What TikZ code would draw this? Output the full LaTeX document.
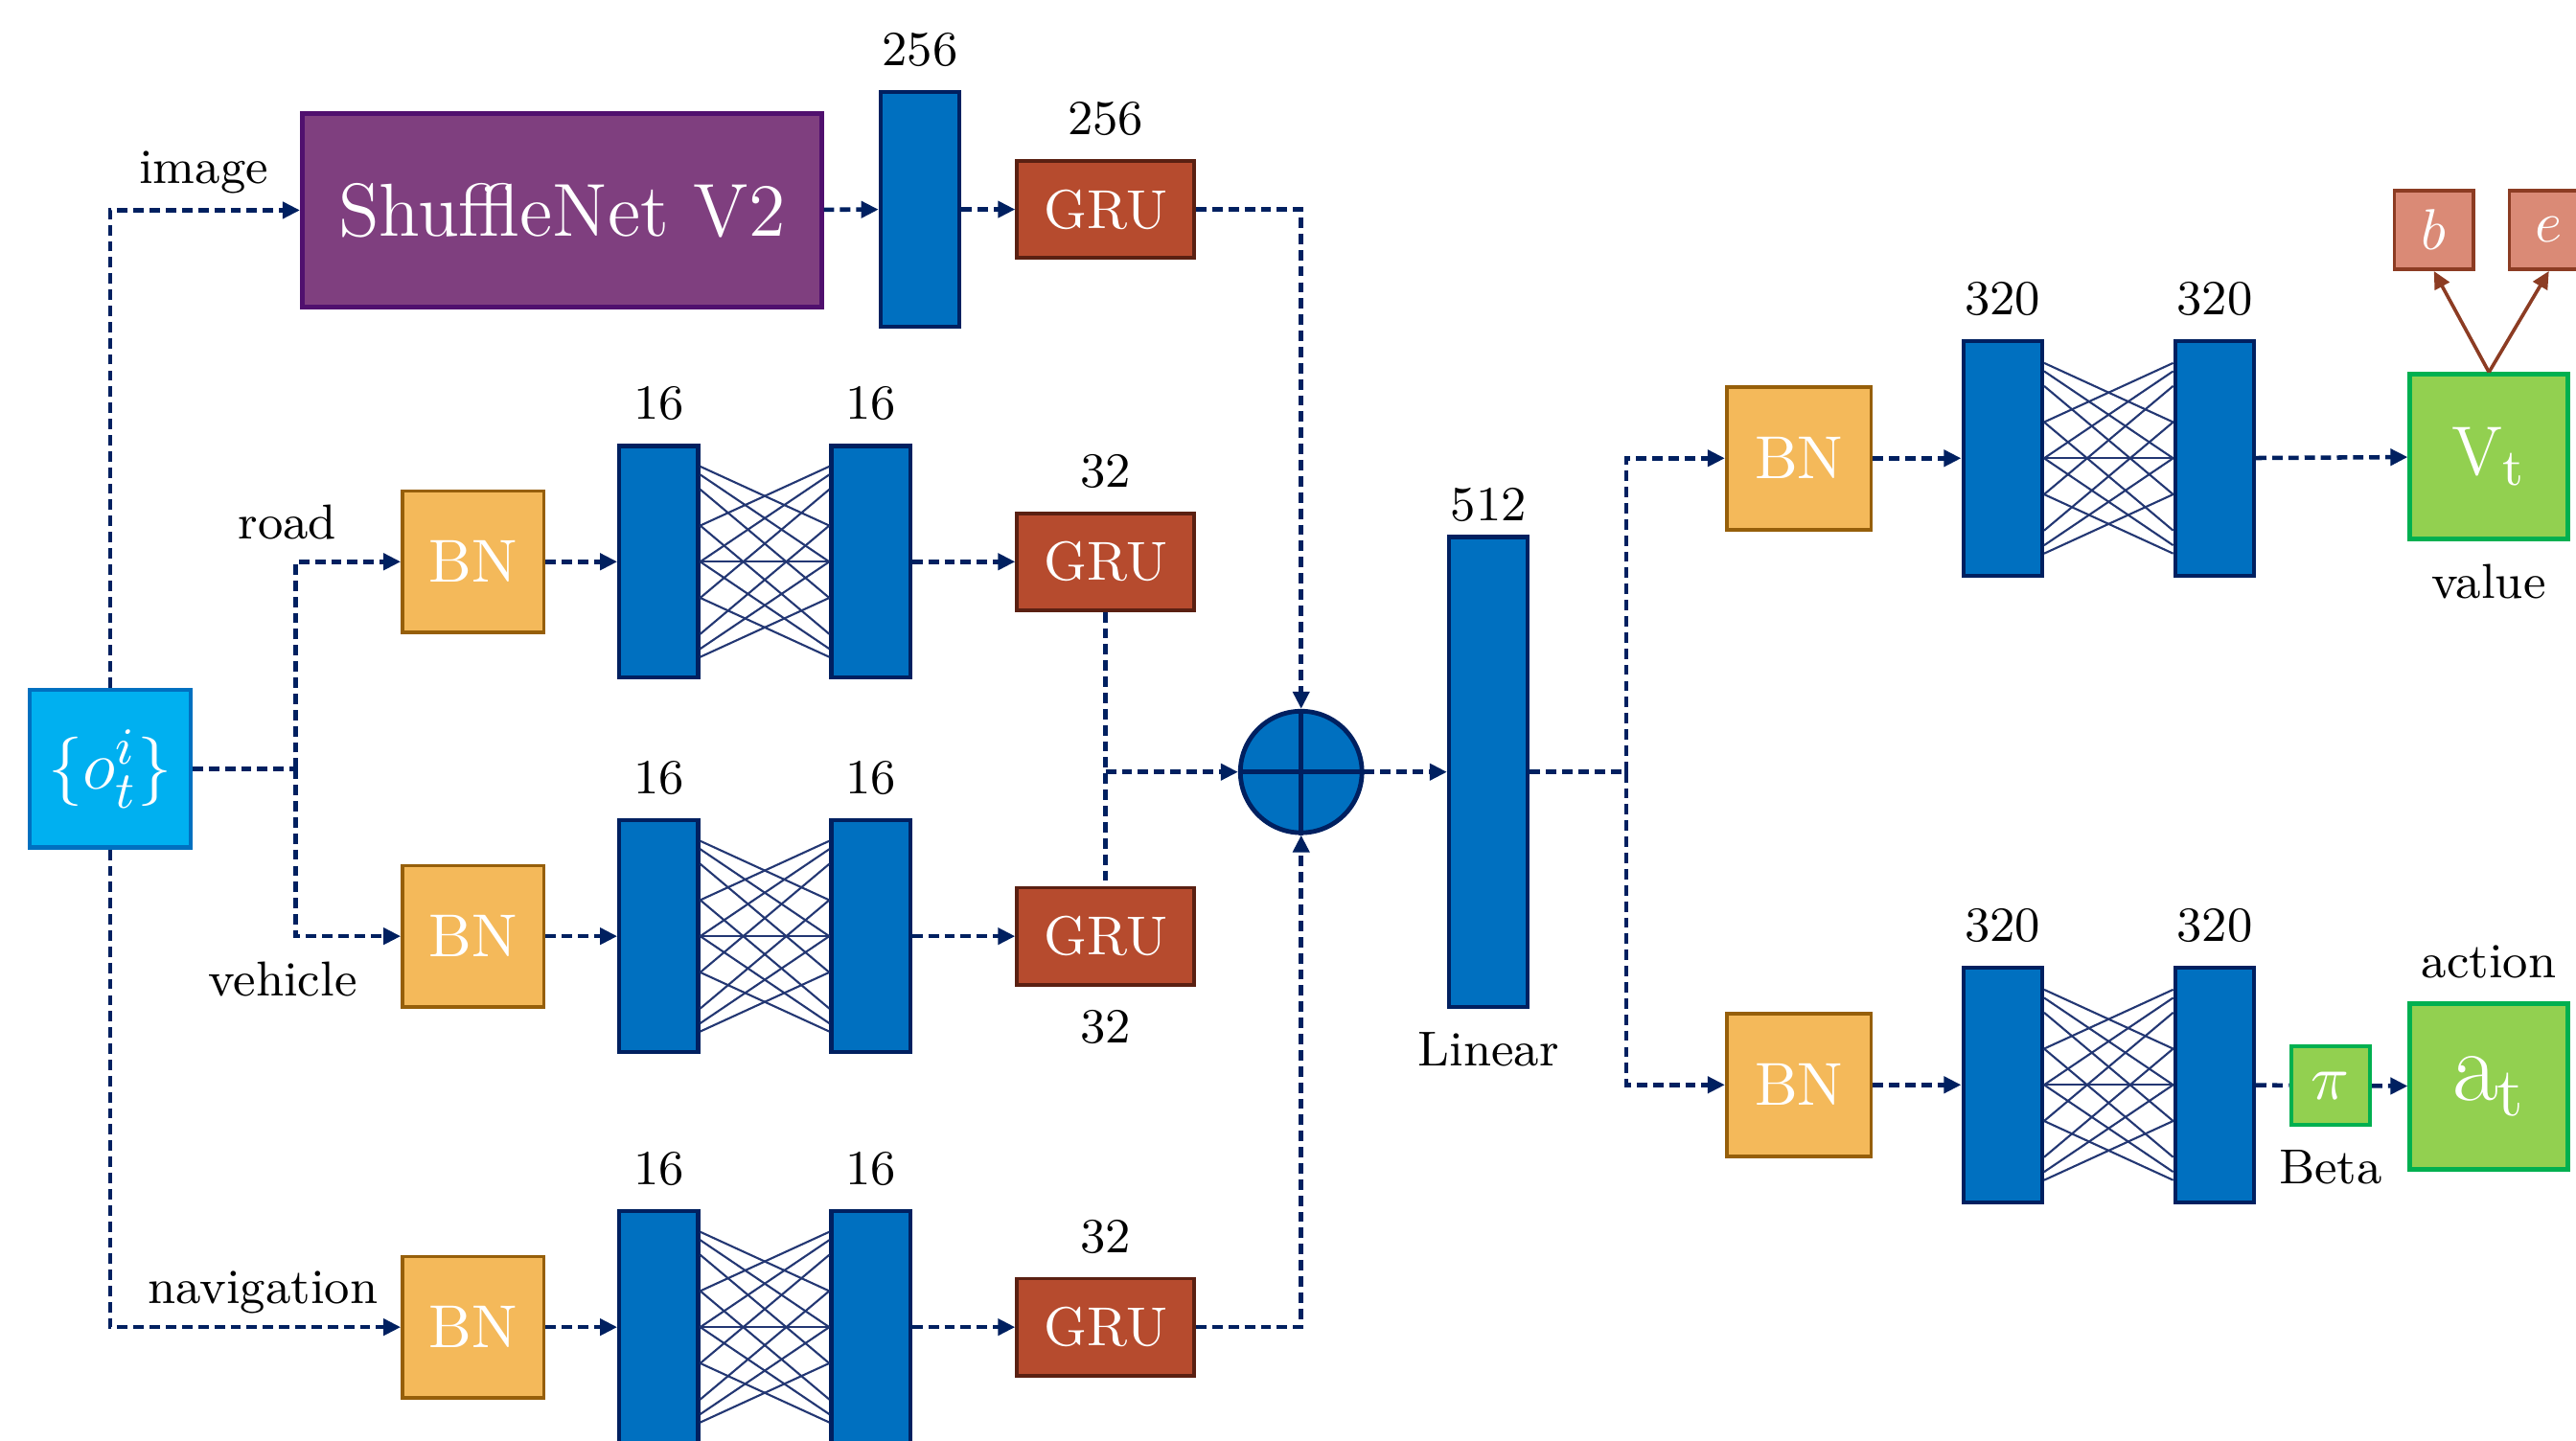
\documentclass[tikz,border=0pt]{standalone}
\usepackage{amssymb,amsmath}
\usepackage{pgf,tikz}
\usetikzlibrary{arrows.meta}
\usetikzlibrary{positioning}

\definecolor{navy}{RGB}{0,32,96}
\definecolor{barblue}{RGB}{0,112,192}
\definecolor{obscyan}{RGB}{0,176,240}
\definecolor{cnnpurple}{RGB}{127,63,127}
\definecolor{cnnedge}{RGB}{80,16,110}
\definecolor{grufill}{RGB}{182,75,46}
\definecolor{gruedge}{RGB}{90,32,18}
\definecolor{bnfill}{RGB}{244,185,90}
\definecolor{bnedge}{RGB}{150,95,10}
\definecolor{outfill}{RGB}{146,208,80}
\definecolor{outedge}{RGB}{0,176,80}
\definecolor{parfill}{RGB}{218,138,118}
\definecolor{paredge}{RGB}{140,60,35}
\definecolor{meshcol}{RGB}{35,55,115}

\tikzset{
  flow/.style={navy,line width=0.75pt,dash pattern=on 1.8pt off 1pt},
  layer/.style={draw=navy,fill=barblue,line width=0.7pt,minimum width=0.48cm,minimum height=1.41cm,inner sep=0pt},
  gru/.style={draw=gruedge,fill=grufill,line width=0.6pt,minimum width=1.08cm,minimum height=0.59cm,inner sep=0pt,text=white,font=\fontsize{9.5}{11}\selectfont},
  bn/.style={draw=bnedge,fill=bnfill,line width=0.6pt,minimum width=0.86cm,minimum height=0.86cm,inner sep=0pt,text=white,font=\fontsize{10.5}{12}\selectfont},
  outbox/.style={draw=outedge,fill=outfill,line width=0.8pt,minimum width=0.96cm,minimum height=1cm,inner sep=0pt,text=white},
  smallout/.style={draw=outedge,fill=outfill,line width=0.7pt,minimum size=0.48cm,inner sep=0pt,text=white,font=\fontsize{11}{12}\selectfont},
  param/.style={draw=paredge,fill=parfill,line width=0.6pt,minimum size=0.48cm,inner sep=0pt,text=white,font=\fontsize{10}{12}\selectfont},
  lbl/.style={inner sep=1pt,font=\fontsize{8.5}{10}\selectfont},
  mesh/.style={meshcol,line width=0.35pt}
}

% fully connected lines between two layers
\newcommand{\mesh}[2]{%
  \foreach \a/\b in {0.58/0.22,0.53/0,0.44/-0.22,0.22/0.58,0/0.53,-0.22/0.44,0/0,
                     -0.58/-0.22,-0.53/0,-0.44/0.22,-0.22/-0.58,0/-0.53,0.22/-0.44}
    \draw[mesh] ([yshift=\a cm]#1.east) -- ([yshift=\b cm]#2.west);
}

\begin{document}
\begin{tikzpicture}[line cap=butt,line join=miter,>={Triangle[length=3pt,width=2.8pt]},x=1.0cm,y=1.0cm]
      \useasboundingbox (0,0) rectangle (15.68,8.77);

      % input and image branch
      \node[draw=barblue,fill=obscyan,line width=0.7pt,minimum width=0.98cm,minimum height=0.96cm,inner sep=0pt,text=white,font=\fontsize{13}{15}\selectfont] (obs) at (0.67,4.09) {$\{o^{i}_{t}\}$};
      \node[draw=cnnedge,fill=cnnpurple,line width=0.8pt,minimum width=3.16cm,minimum height=1.18cm,text=white,font=\fontsize{13}{15}\selectfont] (cnn) at (3.42,7.49) {ShuffleNet V2};
      \node[layer,minimum height=1.43cm] (img) at (5.60,7.495) {};
      \node[gru] (gruimg) at (6.73,7.495) {GRU};
      \node[lbl,above=0.1cm of img] (nimg) {256};
      \node[lbl,above=0.1cm of gruimg] (ngruimg) {256};
      \draw[flow,->] (cnn) -- (img);
      \draw[flow,->] (img) -- (gruimg);

      % road, vehicle and navigation branches
      \foreach \row/\y in {road/5.35,veh/3.07,nav/0.69} {
        \node[bn] (bn\row) at (2.88,\y) {BN};
        \node[layer] (\row A) at (4.01,\y) {};
        \node[layer] (\row B) at (5.30,\y) {};
        \node[gru] (gru\row) at (6.73,\y) {GRU};
        \node[lbl,above=0.1cm of \row A] (n\row A) {16};
        \node[lbl,above=0.1cm of \row B] (n\row B) {16};
        \draw[flow,->] (bn\row) -- (\row A);
        \draw[flow,->] (\row B) -- (gru\row);
        \mesh{\row A}{\row B}
      }
      \node[lbl,above=0.1cm of gruroad] (ngruroad) {32};
      \node[lbl,below=0.1cm of gruveh] (ngruveh) {32};
      \node[lbl,above=0.1cm of grunav] (ngrunav) {32};

      \node[lbl] (limage) at (1.24,7.72) {image};
      \node[lbl] (lroad) at (1.75,5.59) {road};
      \node[lbl] (lveh) at (1.72,2.81) {vehicle};
      \node[lbl] (lnav) at (1.60,0.90) {navigation};

      \coordinate (split) at (1.80,4.09);
      \draw[flow,->] (obs) |- (cnn);
      \draw[flow,->] (obs) |- (bnnav);
      \draw[flow] (obs) -- (split);
      \draw[flow,->] (split) |- (bnroad);
      \draw[flow,->] (split) |- (bnveh);

      % fusion and linear layer
      \node[circle,draw=navy,fill=barblue,line width=0.8pt,minimum size=0.74cm,inner sep=0pt] (sum) at (7.92,4.07) {};
      \draw[navy,line width=0.8pt] (sum.north) -- (sum.south) (sum.west) -- (sum.east);
      \node[layer,minimum height=2.86cm] (fc) at (9.06,4.07) {};
      \node[lbl,above=0.04cm of fc] (nfc) {512};
      \node[lbl,below=0.1cm of fc] (lfc) {Linear};

      \draw[flow,->] (gruimg) -| (sum);
      \draw[flow,->] (grunav) -| (sum);
      \draw[flow] (gruroad) -- (gruveh);
      \draw[flow,->] (gruroad.south |- sum) -- (sum);
      \draw[flow,->] (sum) -- (fc);

      % value and action heads
      \foreach \h/\y in {v/5.98,a/2.165} {
        \node[bn,minimum width=0.88cm,minimum height=0.87cm] (bn\h) at (10.95,\y) {BN};
        \node[layer,minimum height=1.43cm] (\h A) at (12.19,\y) {};
        \node[layer,minimum height=1.43cm] (\h B) at (13.48,\y) {};
        \node[lbl,above=0.1cm of \h A] (n\h A) {320};
        \node[lbl,above=0.1cm of \h B] (n\h B) {320};
        \draw[flow,->] (bn\h) -- (\h A);
        \mesh{\h A}{\h B}
      }
      \coordinate (fork) at (9.90,4.07);
      \draw[flow] (fc) -- (fork);
      \draw[flow,->] (fork) |- (bnv);
      \draw[flow,->] (fork) |- (bna);

      \node[outbox,font=\fontsize{13}{15}\selectfont] (val) at (15.15,5.99) {$\mathrm{V}_\mathrm{t}$};
      \node[lbl,below=0.1cm of val] (lval) {value};
      \node[param] (b) at (14.815,7.37) {$b$};
      \node[param] (e) at (15.515,7.37) {$e$};
      \draw[flow,->] (vB) -- (val);
      \draw[paredge,line width=0.6pt,->] (val.north) -- (b.south);
      \draw[paredge,line width=0.6pt,->] (val.north) -- (e.south);

      \node[smallout] (pi) at (14.185,2.16) {$\pi$};
      \node[lbl,below=0.1cm of pi] (lpi) {Beta};
      \node[outbox,minimum height=1.01cm,font=\fontsize{17}{19}\selectfont] (act) at (15.15,2.155) {$\mathrm{a}_\mathrm{t}$};
      \node[lbl,above=0.1cm of act] (lact) {action};
      \draw[flow] (aB) -- (pi);
      \draw[flow,->] (pi) -- (act);
\end{tikzpicture}
\end{document}
